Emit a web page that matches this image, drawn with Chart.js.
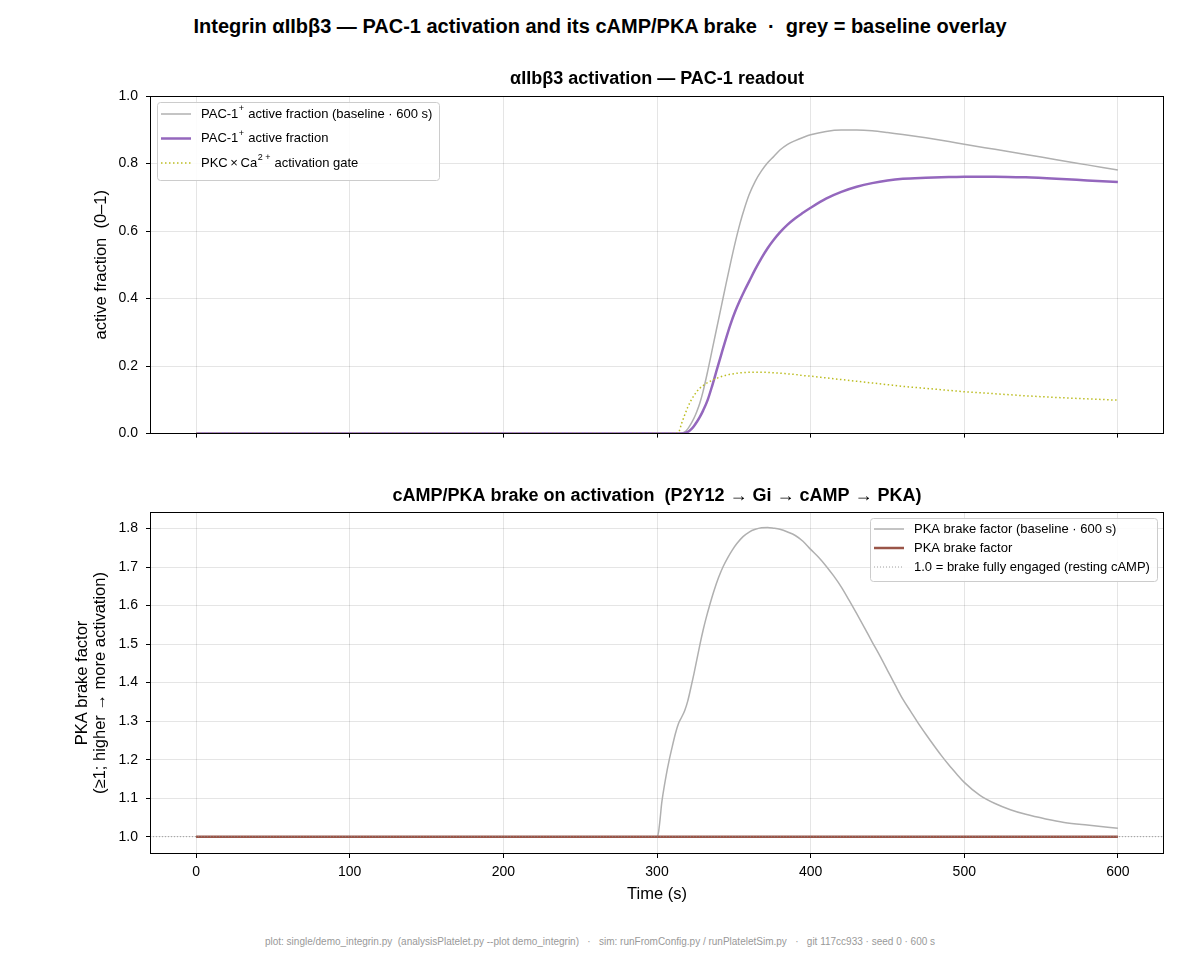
<!DOCTYPE html>
<html lang="en">
<head>
<meta charset="UTF-8">
<title>Integrin αIIbβ3 — PAC-1 activation and its cAMP/PKA brake</title>
<script src="https://cdn.jsdelivr.net/npm/chart.js"></script>
<style>
    body {
        margin: 0;
        background: #fff;
        font-family: "Liberation Sans", Arial, sans-serif;
    }
    #page {
        position: relative;
        width: 1200px;
        height: 960px;
    }
    #suptitle {
        position: absolute;
        left: 0; top: 15px; width: 1200px;
        text-align: center;
        font-weight: bold;
        font-size: 20px;
        white-space: pre;
    }
    #footer {
        position: absolute;
        left: 0; top: 936px; width: 1200px;
        text-align: center;
        font-size: 10px;
        color: #999;
        white-space: pre;
    }
    canvas { position: absolute; left: 0; }
    #topChart { top: 50px; }
    #bottomChart { top: 460px; }
</style>
</head>
<body>
<div id="page">
    <div id="suptitle">Integrin αIIbβ3 — PAC-1 activation and its cAMP/PKA brake  ·  grey = baseline overlay</div>
    <canvas id="topChart" width="1200" height="400"></canvas>
    <canvas id="bottomChart" width="1200" height="450"></canvas>
    <div id="footer">plot: single/demo_integrin.py  (analysisPlatelet.py --plot demo_integrin)   ·   sim: runFromConfig.py / runPlateletSim.py   ·   git 117cc933 · seed 0 · 600 s</div>
</div>

<script>
// --- data ---
const timeTicks = [0, 100, 200, 300, 400, 500, 600];
const fractionTicks = [0, 0.2, 0.4, 0.6, 0.8, 1.0];
const brakeTicks = [1.0, 1.1, 1.2, 1.3, 1.4, 1.5, 1.6, 1.7, 1.8];

// top panel, shared time grid (s)
const timeTop = [0, 300, 310, 314, 316, 318, 320, 322, 324, 326, 328, 330, 333, 336, 339, 342, 345, 348, 351, 354, 357, 360,
                 364, 368, 372, 376, 380, 385, 390, 395, 400, 410, 420, 430, 440, 450, 460, 475, 490, 500, 520, 540, 560, 580, 600];
const pacBaseline = [0, 0, 0, 0, 0.001, 0.005, 0.014, 0.028, 0.045, 0.066, 0.092, 0.125, 0.185, 0.25, 0.315, 0.38, 0.445, 0.508, 0.568, 0.622, 0.668, 0.708,
                     0.748, 0.778, 0.802, 0.821, 0.84, 0.857, 0.868, 0.877, 0.885, 0.895, 0.899, 0.899, 0.897, 0.892, 0.886, 0.876, 0.865, 0.857, 0.842, 0.827, 0.811, 0.796, 0.781];
const pacActive = [0, 0, 0, 0, 0, 0.001, 0.005, 0.012, 0.022, 0.035, 0.05, 0.068, 0.1, 0.143, 0.19, 0.237, 0.283, 0.326, 0.363, 0.395, 0.424, 0.451,
                   0.487, 0.52, 0.549, 0.574, 0.596, 0.619, 0.638, 0.654, 0.669, 0.696, 0.716, 0.731, 0.742, 0.75, 0.755, 0.758, 0.76, 0.761, 0.761, 0.759, 0.755, 0.75, 0.745];
const pkcCaGate = [0, 0, 0, 0.004, 0.03, 0.055, 0.078, 0.097, 0.112, 0.125, 0.135, 0.142, 0.151, 0.158, 0.164, 0.169, 0.173, 0.176, 0.178, 0.18, 0.181, 0.182,
                   0.182, 0.182, 0.181, 0.18, 0.179, 0.177, 0.175, 0.172, 0.17, 0.165, 0.16, 0.155, 0.15, 0.145, 0.14, 0.134, 0.128, 0.124, 0.118, 0.112, 0.107, 0.103, 0.099];

// bottom panel
const timeBrake = [0, 300, 301, 302, 303, 304, 306, 308, 310, 312, 314, 316, 318, 320, 322, 324, 326, 328, 330, 332, 334,
                   337, 340, 343, 346, 349, 352, 356, 360, 364, 368, 372, 376, 380, 385, 390, 395, 400, 405, 410, 415, 420,
                   425, 430, 435, 440, 445, 450, 455, 460, 465, 470, 475, 480, 485, 490, 495, 500, 510, 520, 530, 540, 553, 565, 580, 600];
const brakeBaseline = [1, 1, 1.012, 1.045, 1.085, 1.113, 1.16, 1.2, 1.235, 1.268, 1.294, 1.31, 1.327, 1.352, 1.386, 1.422, 1.461, 1.5, 1.536, 1.568, 1.597,
                       1.637, 1.672, 1.701, 1.724, 1.744, 1.761, 1.779, 1.791, 1.798, 1.802, 1.803, 1.801, 1.798, 1.791, 1.782, 1.767, 1.746, 1.726, 1.703, 1.677, 1.648,
                       1.614, 1.579, 1.543, 1.506, 1.47, 1.432, 1.394, 1.357, 1.326, 1.295, 1.266, 1.238, 1.211, 1.186, 1.163, 1.141, 1.108, 1.086, 1.07, 1.058, 1.046, 1.037, 1.03, 1.022];
const brakeActiveTime = [0, 600];
const brakeActive = [1.0, 1.0];
const restingTime = [-30, 630];
const restingLevel = [1.0, 1.0];

function toPoints(xs, ys) {
    return xs.map((x, i) => ({ x: x, y: ys[i] }));
}

const FONT = '"Liberation Sans", Arial, sans-serif';
Chart.defaults.font.family = FONT;
Chart.defaults.font.size = 14;
Chart.defaults.color = '#000';

// full box around the plot area, like matplotlib spines
const framePlugin = {
    id: 'frame',
    afterDatasetsDraw(chart) {
        const a = chart.chartArea;
        const ctx = chart.ctx;
        ctx.save();
        ctx.strokeStyle = '#000';
        ctx.lineWidth = 1;
        ctx.strokeRect(Math.round(a.left) + 0.5, Math.round(a.top) + 0.5,
                       Math.round(a.right - a.left) - 1, Math.round(a.bottom - a.top) - 1);
        ctx.restore();
    }
};

// split "Ca^{2+}" style labels into normal / superscript pieces
function splitLabel(label) {
    const parts = [];
    const re = /\^\{([^}]*)\}/g;
    let last = 0, m;
    while ((m = re.exec(label)) !== null) {
        if (m.index > last) parts.push({ text: label.slice(last, m.index), sup: false });
        parts.push({ text: m[1], sup: true });
        last = re.lastIndex;
    }
    if (last < label.length) parts.push({ text: label.slice(last), sup: false });
    return parts;
}

const legendFont = '13px ' + FONT;
const supFont = '9px ' + FONT;

function labelWidth(ctx, label) {
    let w = 0;
    splitLabel(label).forEach(p => {
        ctx.font = p.sup ? supFont : legendFont;
        w += ctx.measureText(p.text).width + (p.sup ? 1 : 0);
    });
    return w;
}

// legend box drawn inside the plot area
const boxLegend = {
    id: 'boxLegend',
    afterDatasetsDraw(chart, args, opts) {
        const { ctx, chartArea } = chart;
        const items = chart.data.datasets;
        ctx.save();
        const textW = Math.max(...items.map(d => labelWidth(ctx, d.label)));
        const w = Math.round(44 + textW + 7);
        const h = opts.height;
        const x = opts.align === 'right' ? Math.round(chartArea.right - 7 - w) : Math.round(chartArea.left + 7);
        const y = Math.round(chartArea.top + 6);
        ctx.beginPath();
        if (ctx.roundRect) ctx.roundRect(x + 0.5, y + 0.5, w, h, 3);
        else ctx.rect(x + 0.5, y + 0.5, w, h);
        ctx.fillStyle = 'rgba(255,255,255,0.85)';
        ctx.fill();
        ctx.strokeStyle = '#cccccc';
        ctx.lineWidth = 1;
        ctx.stroke();
        items.forEach((d, i) => {
            const cy = y + opts.first + i * opts.gap;
            ctx.beginPath();
            ctx.setLineDash(d.borderDash || []);
            ctx.strokeStyle = d.borderColor;
            ctx.lineWidth = d.borderWidth;
            ctx.moveTo(x + 4, cy);
            ctx.lineTo(x + 34, cy);
            ctx.stroke();
            ctx.setLineDash([]);
            ctx.fillStyle = '#000';
            ctx.textBaseline = 'middle';
            let tx = x + 44;
            splitLabel(d.label).forEach(p => {
                ctx.font = p.sup ? supFont : legendFont;
                ctx.fillText(p.text, p.sup ? tx + 0.5 : tx, p.sup ? cy - 5 : cy);
                tx += ctx.measureText(p.text).width + (p.sup ? 1 : 0);
            });
        });
        ctx.restore();
    }
};

const gridColor = 'rgba(0,0,0,0.1)';

function timeAxis(showLabels, height) {
    return {
        type: 'linear',
        min: -30,
        max: 630,
        afterBuildTicks: s => { s.ticks = timeTicks.map(v => ({ value: v })); },
        afterFit: s => { s.height = height; },
        grid: { color: gridColor, tickColor: '#000', tickLength: 4, tickWidth: 1 },
        border: { display: false },
        ticks: { display: showLabels, padding: 6 },
        title: showLabels
            ? { display: true, text: 'Time (s)', font: { size: 16.5, lineHeight: 1.2 }, padding: { top: 0, bottom: 6.1 } }
            : { display: false }
    };
}

function valueAxis(min, max, tickValues, title, titleTop, lineHeight) {
    return {
        type: 'linear',
        min: min,
        max: max,
        afterBuildTicks: s => { s.ticks = tickValues.map(v => ({ value: v })); },
        afterFit: s => { s.width = 150; },
        grid: { color: gridColor, tickColor: '#000', tickLength: 4, tickWidth: 1 },
        border: { display: false },
        ticks: { padding: 8, callback: v => Number(v).toFixed(1) },
        title: { display: true, text: title, font: { size: 16.5, lineHeight: lineHeight }, padding: { top: titleTop, bottom: 0 } }
    };
}

const commonOptions = {
    responsive: false,
    animation: false,
    devicePixelRatio: 1,
    elements: { point: { radius: 0 }, line: { cubicInterpolationMode: 'monotone' } },
    events: []
};

new Chart(document.getElementById('topChart'), {
    type: 'line',
    data: {
        datasets: [
            { label: 'PAC-1^{+} active fraction (baseline \u00B7 600 s)', data: toPoints(timeTop, pacBaseline),
              borderColor: '#b0b0b0', borderWidth: 1.5, order: 2 },
            { label: 'PAC-1^{+} active fraction', data: toPoints(timeTop, pacActive),
              borderColor: '#9467bd', borderWidth: 2.5, order: 1 },
            { label: 'PKC\u2009\u00D7\u2009Ca^{2 +} activation gate', data: toPoints(timeTop, pkcCaGate),
              borderColor: '#bcbd22', borderWidth: 1.5, borderDash: [1.5, 2.5], order: 0 }
        ]
    },
    options: {
        ...commonOptions,
        layout: { padding: { left: 0, right: 36, top: 0, bottom: 0 } },
        plugins: {
            legend: { display: false },
            tooltip: { enabled: false },
            title: { display: true, fullSize: false, text: 'αIIbβ3 activation — PAC-1 readout',
                     font: { size: 18, weight: 'bold', lineHeight: 1.2 }, padding: { top: 18.2, bottom: 6.2 } },
            boxLegend: { align: 'left', height: 78, first: 12, gap: 24.5 }
        },
        scales: {
            x: timeAxis(false, 12),
            y: valueAxis(0, 1, fractionTicks, 'active fraction  (0–1)', 91.1, 1.2)
        }
    },
    plugins: [framePlugin, boxLegend]
});

new Chart(document.getElementById('bottomChart'), {
    type: 'line',
    data: {
        datasets: [
            { label: 'PKA brake factor (baseline \u00B7 600 s)', data: toPoints(timeBrake, brakeBaseline),
              borderColor: '#b0b0b0', borderWidth: 1.5, order: 2 },
            { label: 'PKA brake factor', data: toPoints(brakeActiveTime, brakeActive),
              borderColor: '#9a5548', borderWidth: 2.5, order: 1 },
            { label: '1.0 = brake fully engaged (resting cAMP)', data: toPoints(restingTime, restingLevel),
              borderColor: '#888888', borderWidth: 0.8, borderDash: [1, 2], order: 0 }
        ]
    },
    options: {
        ...commonOptions,
        layout: { padding: { left: 0, right: 36, top: 0, bottom: 0 } },
        plugins: {
            legend: { display: false },
            tooltip: { enabled: false },
            title: { display: true, fullSize: false, text: 'cAMP/PKA brake on activation  (P2Y12 → Gi → cAMP → PKA)',
                     font: { size: 18, weight: 'bold', lineHeight: 1.2 }, padding: { top: 25.2, bottom: 5.2 } },
            boxLegend: { align: 'right', height: 63, first: 11, gap: 19 }
        },
        scales: {
            x: timeAxis(true, 56),
            y: valueAxis(0.955, 1.843, brakeTicks, ['PKA brake factor', '(≥1; higher → more activation)'], 72.9, 1.1)
        }
    },
    plugins: [framePlugin, boxLegend]
});
</script>
</body>
</html>
